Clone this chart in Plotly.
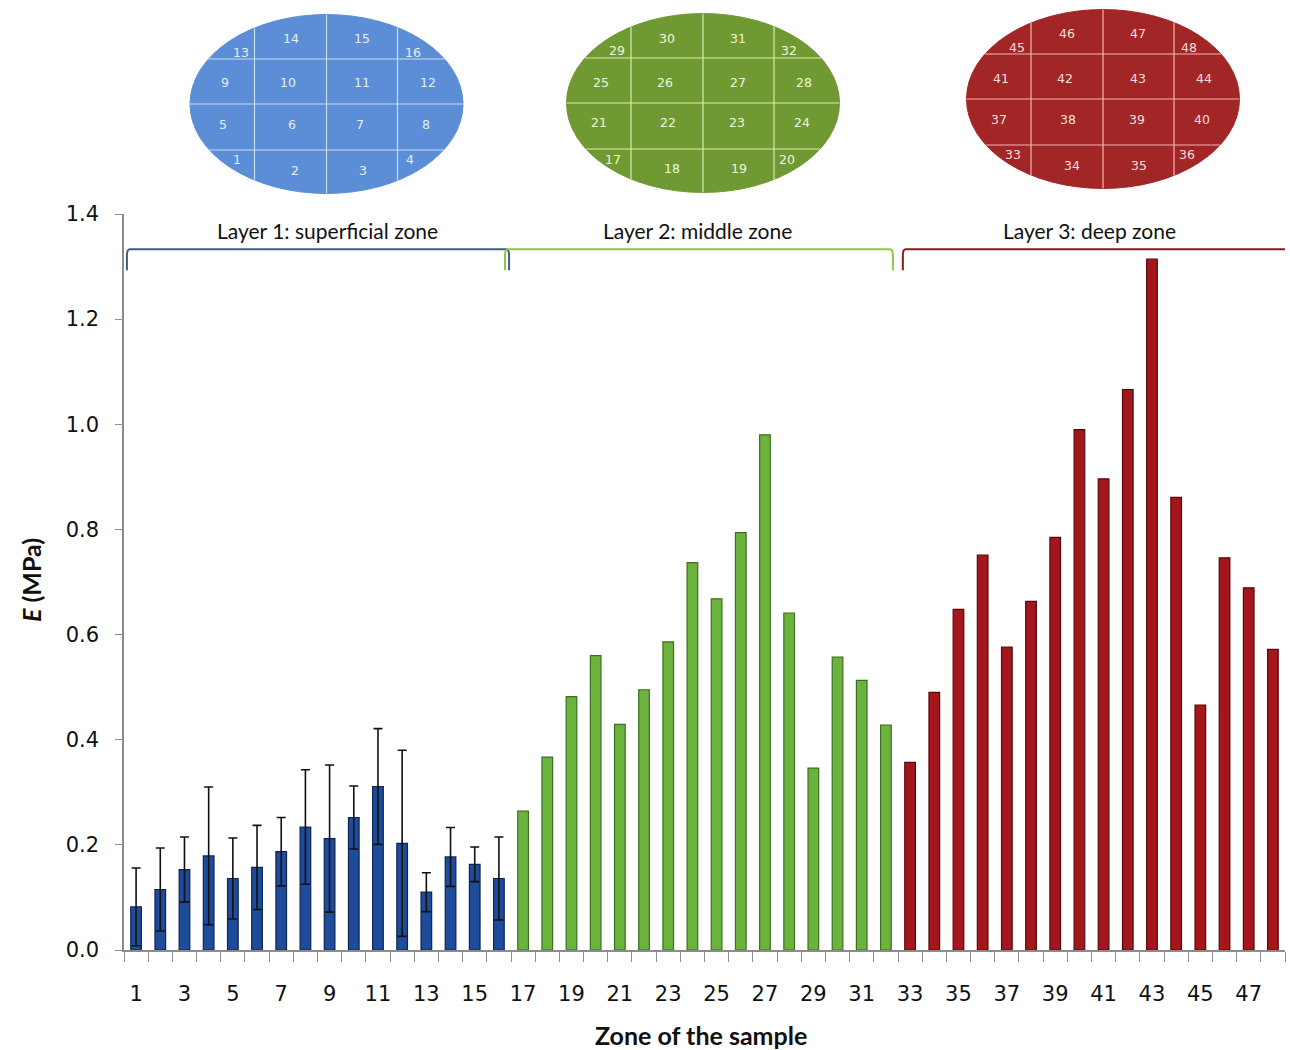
import numpy as np
import plotly.graph_objects as go

# ---------------- data ----------------
zones_l1 = list(range(1, 17))
zones_l2 = list(range(17, 33))
zones_l3 = list(range(33, 49))

E_l1 = [0.082, 0.115, 0.153, 0.179, 0.136, 0.157, 0.187, 0.234,
        0.212, 0.252, 0.311, 0.203, 0.110, 0.177, 0.163, 0.136]
SD_l1 = [0.074, 0.079, 0.062, 0.131, 0.077, 0.080, 0.065, 0.109,
         0.140, 0.060, 0.110, 0.177, 0.037, 0.056, 0.033, 0.079]
E_l2 = [0.264, 0.367, 0.482, 0.560, 0.429, 0.495, 0.586, 0.737,
        0.668, 0.794, 0.980, 0.641, 0.346, 0.557, 0.513, 0.428]
E_l3 = [0.357, 0.490, 0.648, 0.751, 0.576, 0.663, 0.785, 0.990,
        0.896, 1.066, 1.314, 0.861, 0.466, 0.746, 0.689, 0.572]

x_tick_vals = list(range(1, 48, 2))
x_tick_text = [str(v) for v in x_tick_vals]
y_tick_vals = [0.0, 0.2, 0.4, 0.6, 0.8, 1.0, 1.2, 1.4]

layer_labels = ["Layer 1: superficial zone", "Layer 2: middle zone", "Layer 3: deep zone"]
layer_spans = [(0.62, 16.42), (16.25, 32.29), (32.7, 48.6)]
layer_label_x = [8.9, 24.2, 40.4]

# ---------------- styling ----------------
W, H = 1290, 1050
ML, MR, MT, MB = 124, 5, 214, 100
PW, PH = W - ML - MR, H - MT - MB

bar_cols = ["#1E4C9A", "#6CB33E", "#A3161C"]
bar_edges = ["#0E2550", "#3A7020", "#5A080B"]
bracket_cols = ["#3D5C8C", "#8DC63F", "#8B1A1A"]
ell_fill = ["#5B8ED6", "#6F9A33", "#A32626"]
ell_line = ["#C8DDF5", "#D9E8A8", "#F0B5B5"]
ell_text = ["#E6EEF8", "#F0F5DC", "#F5DEDE"]
axis_col = "#8C8C8C"

fig = go.Figure()
bw = 0.44
fig.add_trace(go.Bar(x=zones_l1, y=E_l1, width=bw,
                     marker=dict(color=bar_cols[0], line=dict(color=bar_edges[0], width=1.2)),
                     error_y=dict(type="data", array=SD_l1, visible=True,
                                  color="#111111", thickness=1.6, width=4.5),
                     showlegend=False))
fig.add_trace(go.Bar(x=zones_l2, y=E_l2, width=bw,
                     marker=dict(color=bar_cols[1], line=dict(color=bar_edges[1], width=1.2)),
                     showlegend=False))
fig.add_trace(go.Bar(x=zones_l3, y=E_l3, width=bw,
                     marker=dict(color=bar_cols[2], line=dict(color=bar_edges[2], width=1.2)),
                     showlegend=False))

shapes = []
annotations = []

# brackets + layer labels (data coords)
y_top, y_bot, y_txt = 1.333, 1.293, 1.368
for (x0, x1), col, lab, lx in zip(layer_spans, bracket_cols, layer_labels, layer_label_x):
    r = 0.12
    path = (f"M {x0},{y_bot} L {x0},{y_top-0.012} Q {x0},{y_top} {x0+r},{y_top} "
            f"L {x1-r},{y_top} Q {x1},{y_top} {x1},{y_top-0.012} L {x1},{y_bot}")
    shapes.append(dict(type="path", xref="x", yref="y", path=path,
                       line=dict(color=col, width=2)))
    annotations.append(dict(x=lx, y=y_txt, xref="x", yref="y", text=lab, showarrow=False,
                            xanchor="center", yanchor="middle",
                            font=dict(family="Lato, Carlito, sans-serif", size=21, color="#111111")))


def px(x):
    return (x - ML) / PW


def py(y):
    return (H - MB - y) / PH


# sample ellipses
centers = [(326.5, 104), (703, 103), (1103, 99)]
a, b = 136.5, 89.5
vlines = [-72, 0, 71]
hlines = [-45, 0, 46]
label_off = [(-90, 56), (-31.5, 66), (36, 66), (83.5, 56),
             (-104, 20), (-35, 20), (33.5, 20), (99, 20),
             (-102, -21), (-38.5, -21), (35, -21), (101, -21),
             (-86, -52), (-36, -65), (35, -65), (86, -52)]
for li, (cx, cy) in enumerate(centers):
    shapes.append(dict(type="circle", xref="paper", yref="paper",
                       x0=px(cx - a), x1=px(cx + a), y0=py(cy + b), y1=py(cy - b),
                       fillcolor=ell_fill[li], line=dict(color=ell_fill[li], width=1), layer="above"))
    for dv in vlines:
        hh = b * np.sqrt(max(0.0, 1 - (dv / a) ** 2))
        shapes.append(dict(type="line", xref="paper", yref="paper",
                           x0=px(cx + dv), x1=px(cx + dv), y0=py(cy - hh), y1=py(cy + hh),
                           line=dict(color=ell_line[li], width=1.2), layer="above"))
    for dh in hlines:
        ww = a * np.sqrt(max(0.0, 1 - (dh / b) ** 2))
        shapes.append(dict(type="line", xref="paper", yref="paper",
                           x0=px(cx - ww), x1=px(cx + ww), y0=py(cy + dh), y1=py(cy + dh),
                           line=dict(color=ell_line[li], width=1.2), layer="above"))
    for k, (dx, dy) in enumerate(label_off):
        annotations.append(dict(x=px(cx + dx), y=py(cy + dy), xref="paper", yref="paper",
                                text=str(li * 16 + k + 1), showarrow=False,
                                xanchor="center", yanchor="middle",
                                font=dict(family="DejaVu Sans", size=12.5, color=ell_text[li])))

# axis titles
annotations.append(dict(x=px(31), y=py(580), xref="paper", yref="paper",
                        text="<b><i>E</i> (MPa)</b>", textangle=-90, showarrow=False,
                        xanchor="center", yanchor="middle",
                        font=dict(family="Lato, sans-serif", size=25, color="#111111")))
annotations.append(dict(x=px(701), y=py(1035), xref="paper", yref="paper",
                        text="<b>Zone of the sample</b>", showarrow=False,
                        xanchor="center", yanchor="middle",
                        font=dict(family="Lato, sans-serif", size=25, color="#111111")))

fig.update_layout(
    width=W, height=H,
    margin=dict(l=ML, r=MR, t=MT, b=MB),
    paper_bgcolor="white", plot_bgcolor="white",
    bargap=0.55,
    shapes=shapes, annotations=annotations,
    xaxis=dict(range=[0.5, 48.5], tickmode="array", tickvals=x_tick_vals, ticktext=x_tick_text,
               ticks="outside", ticklen=24, tickcolor="rgba(0,0,0,0)",
               showline=True, linecolor=axis_col, linewidth=1.5, showgrid=False, zeroline=False,
               tickfont=dict(family="DejaVu Sans", size=21, color="#111111"),
               minor=dict(tickvals=[v + 0.5 for v in range(0, 49)], ticks="outside",
                          ticklen=10, tickcolor=axis_col, tickwidth=1.2, showgrid=False)),
    yaxis=dict(range=[0, 1.4], tickmode="array", tickvals=y_tick_vals,
               ticktext=[f"{v:.1f}" for v in y_tick_vals],
               ticks="outside", ticklen=7, tickcolor=axis_col, tickwidth=1.2,
               showline=True, linecolor=axis_col, linewidth=1.5, showgrid=False, zeroline=False,
               ticklabelstandoff=12,
               tickfont=dict(family="DejaVu Sans", size=21, color="#111111")),
)

fig.write_html("out.html")
